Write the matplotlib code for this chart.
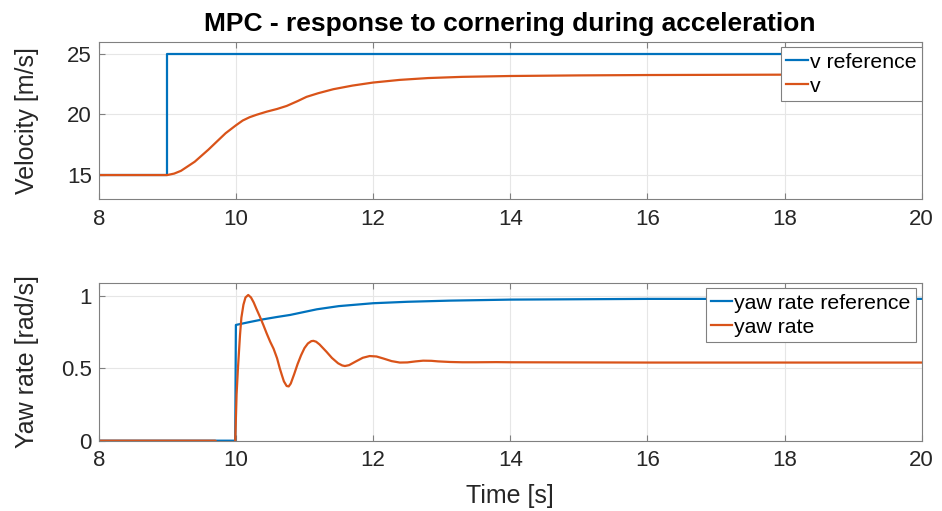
import matplotlib
matplotlib.use("Agg")
import matplotlib.pyplot as plt

plt.rcParams['font.family'] = ['Liberation Sans', 'DejaVu Sans']

# ---- data ----
t_vref = [8, 9, 9, 20]
v_ref = [15, 15, 25, 25]

t_v = [8, 9.0, 9.1, 9.2, 9.28, 9.4, 9.48, 9.6, 9.72, 9.85, 10.0, 10.1, 10.2, 10.3,
       10.45, 10.6, 10.74, 10.9, 11.03, 11.2, 11.42, 11.7, 12.0, 12.39, 12.8, 13.3,
       14, 15, 16, 18, 20]
v = [15, 15, 15.12, 15.35, 15.65, 16.1, 16.5, 17.1, 17.75, 18.45, 19.1, 19.5, 19.77,
     19.97, 20.23, 20.45, 20.7, 21.1, 21.45, 21.75, 22.08, 22.38, 22.63, 22.85, 23.0,
     23.1, 23.17, 23.22, 23.25, 23.28, 23.3]

t_rref = [8, 9.99, 10.0, 10.2, 10.4, 10.6, 10.79, 11.0, 11.18, 11.5, 12.0, 12.5,
          13.12, 14, 16, 20]
r_ref = [0, 0, 0.8, 0.82, 0.839, 0.855, 0.869, 0.89, 0.908, 0.93, 0.95, 0.96,
         0.968, 0.975, 0.98, 0.98]

t_r = [8, 9.7, 9.72, 9.99, 10.01, 10.03, 10.06, 10.08, 10.11, 10.14, 10.18, 10.22,
       10.26, 10.3, 10.35, 10.4, 10.45, 10.5, 10.55, 10.6, 10.64, 10.67, 10.7, 10.74,
       10.77, 10.8, 10.85, 10.9, 10.95, 11.0, 11.05, 11.1, 11.13, 11.17, 11.22, 11.27,
       11.32, 11.4, 11.49, 11.55, 11.59, 11.65, 11.75, 11.85, 11.95, 12.05, 12.15,
       12.27, 12.39, 12.5, 12.62, 12.73, 12.85, 12.95, 13.12, 13.3, 13.5, 13.8, 14,
       16, 20]
r = [0, 0, -0.01, -0.01, 0.32, 0.5, 0.73, 0.85, 0.94, 0.99, 1.007, 0.99,
     0.955, 0.91, 0.857, 0.8, 0.74, 0.684, 0.635, 0.57, 0.5, 0.454, 0.41, 0.378,
     0.375, 0.395, 0.46, 0.53, 0.59, 0.64, 0.672, 0.688, 0.69, 0.684, 0.665, 0.64,
     0.615, 0.572, 0.535, 0.52, 0.516, 0.522, 0.548, 0.573, 0.585, 0.582, 0.568,
     0.55, 0.54, 0.541, 0.548, 0.553, 0.552, 0.548, 0.544, 0.542, 0.542, 0.543, 0.542,
     0.54, 0.54]

xticks = [8, 10, 12, 14, 16, 18, 20]

BLUE = '#0072BD'
ORANGE = '#D95319'
SPINE = '#808080'
TXT = '#262626'

fig = plt.figure(figsize=(9.42, 5.11), dpi=100)
ax1 = fig.add_axes([0.1048, 0.61, 0.8737, 0.3084])
ax2 = fig.add_axes([0.1048, 0.1376, 0.8737, 0.3092])


def style(ax):
    ax.set_xlim(8, 20)
    ax.set_xticks(xticks)
    ax.grid(True, color='#e6e6e6', linewidth=0.8)
    ax.set_axisbelow(True)
    for s in ax.spines.values():
        s.set_color(SPINE)
        s.set_linewidth(0.8)
    ax.tick_params(direction='in', length=4, width=0.8, color=SPINE,
                   labelsize=16, labelcolor=TXT, top=True, right=False)
    ax.tick_params(axis='x', pad=7)
    ax.tick_params(axis='y', pad=5)
    ax.yaxis.set_label_coords(-0.072, 0.5)


legkw = dict(loc='upper right', fontsize=15.3, fancybox=False, edgecolor=SPINE,
             framealpha=1, handlelength=1.0, handletextpad=0.1, borderpad=0.25,
             labelspacing=0.25, borderaxespad=0.0)

ax1.plot(t_vref, v_ref, color=BLUE, lw=1.6, label='v reference')
ax1.plot(t_v, v, color=ORANGE, lw=1.6, label='v')
style(ax1)
ax1.set_ylim(13, 26)
ax1.set_yticks([15, 20, 25])
ax1.set_ylabel('Velocity [m/s]', fontsize=18, color=TXT)
ax1.set_title('MPC - response to cornering during acceleration', fontsize=19,
              fontweight='bold', pad=8)
leg1 = ax1.legend(bbox_to_anchor=(1.0, 0.965), **legkw)
leg1.get_frame().set_linewidth(0.8)

ax2.plot(t_rref, r_ref, color=BLUE, lw=1.6, label='yaw rate reference')
ax2.plot(t_r, r, color=ORANGE, lw=1.6, label='yaw rate')
style(ax2)
ax2.set_ylim(0, 1.092)
ax2.set_yticks([0, 0.5, 1])
ax2.set_yticklabels(['0', '0.5', '1'])
ax2.set_ylabel('Yaw rate [rad/s]', fontsize=18, color=TXT)
ax2.set_xlabel('Time [s]', fontsize=18, color=TXT, labelpad=9)
leg2 = ax2.legend(bbox_to_anchor=(0.993, 0.965), **legkw)
leg2.get_frame().set_linewidth(0.8)

fig.savefig('out.png', dpi=100)
